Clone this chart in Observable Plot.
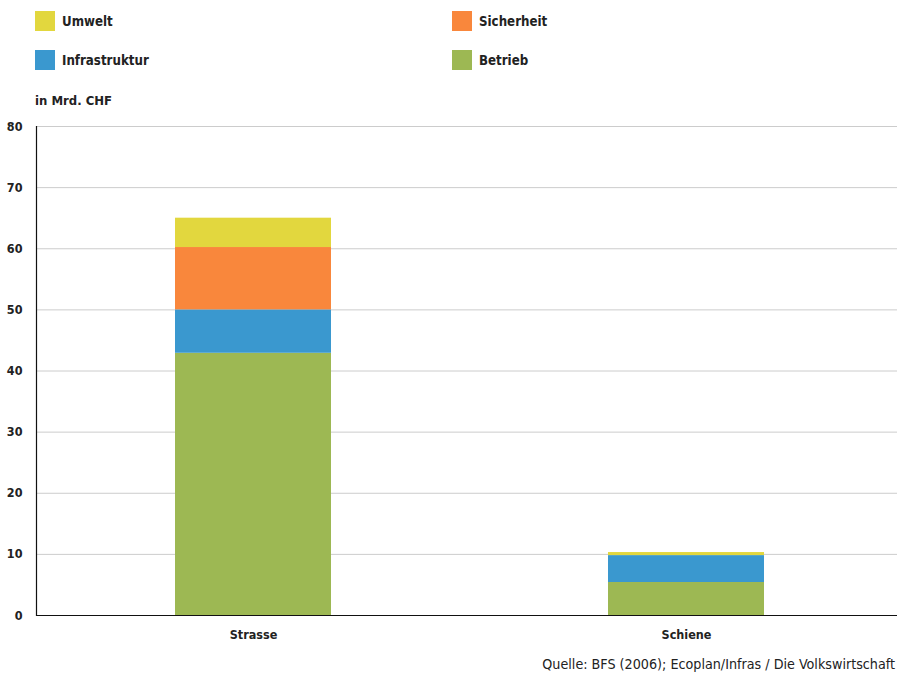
<!DOCTYPE html>
<html>
<head>
<meta charset="utf-8">
<script src="https://cdn.jsdelivr.net/npm/d3@7"></script>
<script src="https://cdn.jsdelivr.net/npm/@observablehq/plot@0.6"></script>
<style>
  html, body { margin: 0; padding: 0; background: #fff; width: 897px; height: 680px; overflow: hidden; }
  body { font-family: "DejaVu Sans Condensed", "Open Sans", sans-serif; color: #222; position: relative; }
  #head { position: relative; height: 112px; }
  .item { position: absolute; display: flex; align-items: center; font-weight: bold; font-size: 13.2px; }
  .sw { width: 20px; height: 20px; margin-right: 7px; }
  #unit { position: absolute; left: 35px; top: 93px; font-weight: bold; font-size: 13px; }
  #cap { position: absolute; right: 2px; top: 656px; font-size: 14.2px; white-space: nowrap; text-align: right; }
</style>
</head>
<body>
<div id="head"></div>
<div id="chart"></div>
<div id="cap"></div>
<script>
const categories = ["Strasse", "Schiene"];
const series = ["Betrieb", "Infrastruktur", "Sicherheit", "Umwelt"];
const betrieb = [42.9, 5.4];
const infrastruktur = [7.1, 4.4];
const sicherheit = [10.2, 0];
const umwelt = [4.8, 0.5];
const colors = ["#9db853", "#3a98cf", "#f9873c", "#e2d73e"];
const yTicks = [0, 10, 20, 30, 40, 50, 60, 70, 80];
const legendOrder = ["Umwelt", "Sicherheit", "Infrastruktur", "Betrieb"];
const unitLabel = "in Mrd. CHF";
const caption = "Quelle: BFS (2006); Ecoplan/Infras / Die Volkswirtschaft";

const valuesBySeries = [betrieb, infrastruktur, sicherheit, umwelt];
const data = [];
categories.forEach((c, i) => {
  series.forEach((s, j) => data.push({category: c, series: s, value: valuesBySeries[j][i]}));
});

// Legend
const head = document.getElementById("head");
const legendPos = [[35, 11], [452, 11], [35, 50], [452, 50]];
legendOrder.forEach((s, k) => {
  const d = document.createElement("div");
  d.className = "item";
  d.style.left = legendPos[k][0] + "px";
  d.style.top = legendPos[k][1] + "px";
  const sw = document.createElement("div");
  sw.className = "sw";
  sw.style.background = colors[series.indexOf(s)];
  d.appendChild(sw);
  d.appendChild(document.createTextNode(s));
  head.appendChild(d);
});
const u = document.createElement("div");
u.id = "unit";
u.textContent = unitLabel;
head.appendChild(u);
document.getElementById("cap").textContent = caption;

const chart = Plot.plot({
  width: 897,
  height: 538,
  marginTop: 14,
  marginBottom: 35,
  marginLeft: 36,
  marginRight: 0,
  style: {fontFamily: "'DejaVu Sans Condensed', 'Open Sans', sans-serif", fontSize: "12.5px", fontWeight: "bold", color: "#222", background: "#fff"},
  x: {domain: categories, range: [36, 902], paddingInner: 0.64, paddingOuter: 0.32, label: null},
  y: {domain: [0, 80], label: null},
  color: {domain: series, range: colors},
  marks: [
    Plot.ruleY(yTicks.filter(d => d > 0), {stroke: "#cccccc", strokeWidth: 1}),
    Plot.barY(data, {x: "category", y: "value", fill: "series", order: series}),
    Plot.ruleY([0], {stroke: "#111", strokeWidth: 1.2}),
    Plot.frame({anchor: "left", stroke: "#111", strokeWidth: 1.2}),
    Plot.axisY({ticks: yTicks, tickSize: 0, tickPadding: 14, label: null}),
    Plot.axisX({tickSize: 0, tickPadding: 15, label: null})
  ]
});
document.getElementById("chart").appendChild(chart);
</script>
</body>
</html>
